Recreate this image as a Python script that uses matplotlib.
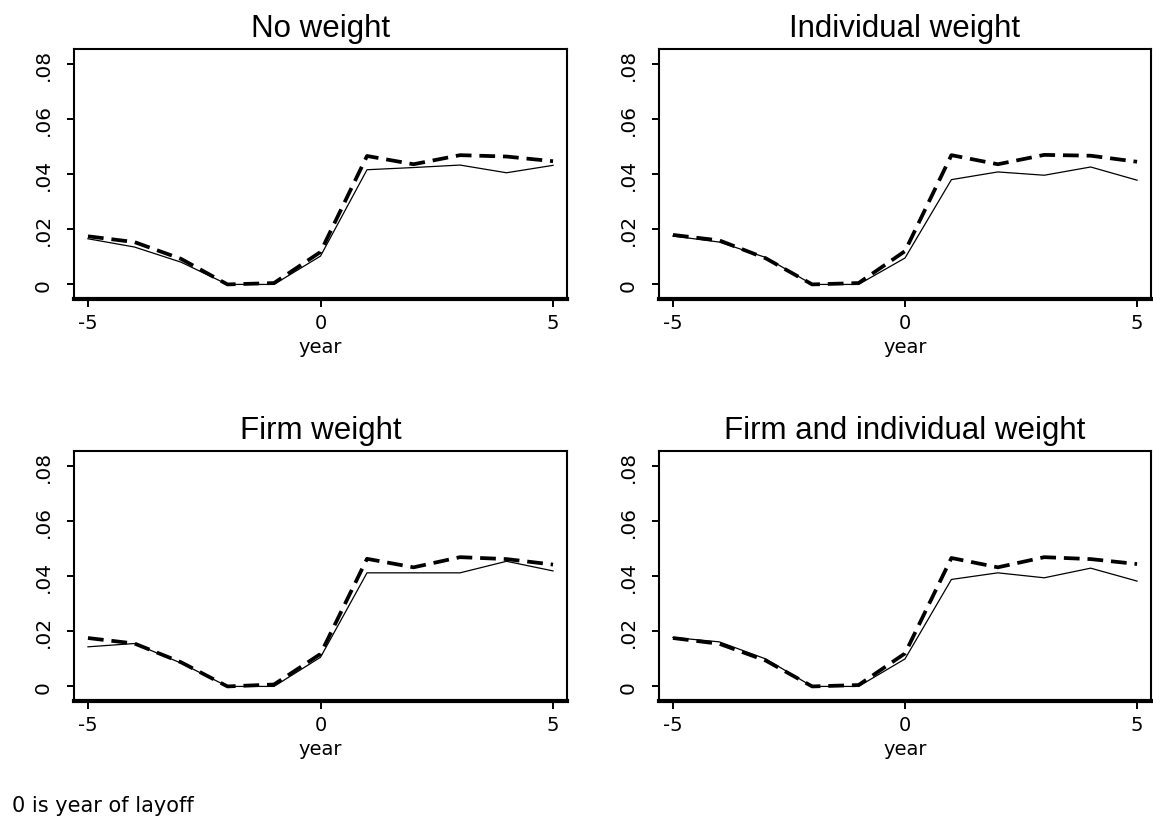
import matplotlib
matplotlib.use("Agg")
import matplotlib.pyplot as plt
import matplotlib.transforms as mtransforms

# ---------------- data ----------------
years = [-5, -4, -3, -2, -1, 0, 1, 2, 3, 4, 5]

titles = ["No weight", "Individual weight", "Firm weight", "Firm and individual weight"]

no_weight_solid = [0.0166, 0.0136, 0.0081, 0.0, 0.0, 0.0103, 0.0417, 0.0425, 0.0434, 0.0406, 0.0433]
no_weight_dashed = [0.0175, 0.0154, 0.0093, 0.0, 0.0005, 0.0118, 0.0467, 0.0437, 0.0470, 0.0465, 0.0448]

indiv_weight_solid = [0.0176, 0.0154, 0.0098, 0.0, 0.0, 0.0096, 0.0381, 0.0409, 0.0397, 0.0427, 0.0379]
indiv_weight_dashed = [0.0180, 0.0160, 0.0095, 0.0, 0.0005, 0.0121, 0.0470, 0.0437, 0.0471, 0.0468, 0.0446]

firm_weight_solid = [0.0144, 0.0156, 0.0085, 0.0, 0.0, 0.0106, 0.0413, 0.0413, 0.0413, 0.0455, 0.0420]
firm_weight_dashed = [0.0176, 0.0156, 0.0088, 0.0, 0.0007, 0.0118, 0.0464, 0.0433, 0.0470, 0.0463, 0.0443]

firm_indiv_solid = [0.0178, 0.0162, 0.0100, 0.0, 0.0, 0.0100, 0.0389, 0.0413, 0.0395, 0.0430, 0.0383]
firm_indiv_dashed = [0.0176, 0.0155, 0.0094, 0.0, 0.0005, 0.0120, 0.0467, 0.0433, 0.0470, 0.0463, 0.0445]

solid_series = [no_weight_solid, indiv_weight_solid, firm_weight_solid, firm_indiv_solid]
dashed_series = [no_weight_dashed, indiv_weight_dashed, firm_weight_dashed, firm_indiv_dashed]

yticks = [0, 0.02, 0.04, 0.06, 0.08]
ytick_labels = ["0", ".02", ".04", ".06", ".08"]
xticks = [-5, 0, 5]
xtick_labels = ["-5", "0", "5"]
xlabel = "year"
footnote = "0 is year of layoff"

# ---------------- figure ----------------
W, H = 1153, 820
fig = plt.figure(figsize=(W / 100, H / 100), dpi=100)

boxes = [(74, 50, 567, 300), (659, 50, 1151, 300),
         (74, 452, 567, 702), (659, 452, 1151, 702)]

for i, (l, t, r, b) in enumerate(boxes):
    ax = fig.add_axes([l / W, 1 - b / H, (r - l) / W, (b - t) / H])
    ax.plot(years, solid_series[i], color="black", lw=0.9, solid_joinstyle="round")
    ax.plot(years, dashed_series[i], color="black", lw=2.7, dashes=(4.2, 2.1),
            dash_capstyle="butt")
    ax.set_xlim(-5.30, 5.30)
    ax.set_ylim(-0.0053, 0.0856)
    ax.set_xticks(xticks)
    ax.set_xticklabels(xtick_labels, fontsize=14, family="DejaVu Sans")
    ax.set_yticks(yticks)
    ax.set_yticklabels(ytick_labels, fontsize=14.5, family="DejaVu Sans",
                       rotation=90, va="center")
    ax.tick_params(axis="x", length=5.8, width=1.4, pad=4.5)
    ax.tick_params(axis="y", length=5.0, width=1.4, pad=10.5)
    for s in ["left", "right", "top"]:
        ax.spines[s].set_linewidth(1.5)
    ax.spines["bottom"].set_linewidth(3.0)
    ax.text(0.5, 1.085, titles[i], transform=ax.transAxes, ha="center", va="center",
            fontsize=22.5, family="Liberation Sans")
    trans = mtransforms.blended_transform_factory(ax.transData, ax.transAxes)
    ax.text(0, -0.19, xlabel, transform=trans, ha="center", va="center",
            fontsize=14, family="DejaVu Sans")

fig.text(12 / W, 1 - 806 / H, footnote, ha="left", va="center",
         fontsize=15, family="DejaVu Sans")

fig.savefig("out.png", dpi=100)
